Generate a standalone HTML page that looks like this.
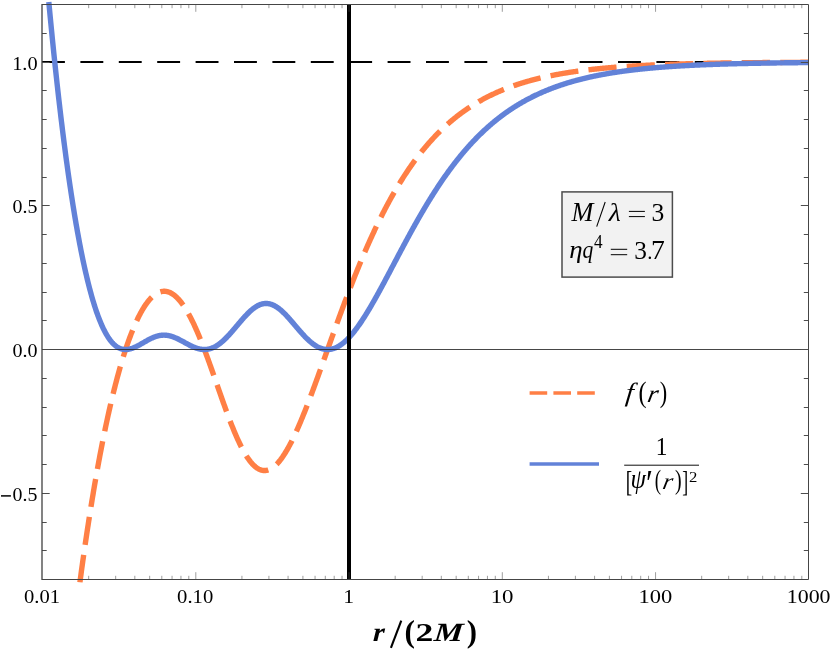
<!DOCTYPE html>
<html><head><meta charset="utf-8"><title>plot</title>
<style>html,body{margin:0;padding:0;background:#fff}svg{display:block}#w{will-change:transform;width:830px;height:654px}</style></head>
<body>
<div id="w">
<svg width="830" height="654" viewBox="0 0 830 654" font-family="'Liberation Serif', serif">
<rect width="830" height="654" fill="#fff"/>
<line x1="42.00" y1="62.00" x2="808.50" y2="62.00" stroke="#000" stroke-width="2" stroke-dasharray="22.9 15.5"/>
<path d="M79.92,582.23 L80.40,578.61 L80.89,575.03 L81.37,571.47 L81.86,567.93 L82.35,564.43 L82.83,560.96 L83.32,557.51 L83.81,554.09 L84.29,550.70 L84.78,547.33 L85.26,543.99 L85.75,540.68 L86.24,537.40 L86.72,534.14 L87.21,530.91 L87.70,527.71 L88.18,524.53 L88.67,521.38 L89.15,518.26 L89.64,515.16 L90.13,512.09 L90.61,509.04 L91.10,506.02 L91.59,503.02 L92.07,500.05 L92.56,497.10 L93.05,494.18 L93.53,491.28 L94.02,488.41 L94.50,485.56 L94.99,482.74 L95.48,479.94 L95.96,477.17 L96.45,474.41 L96.94,471.69 L97.42,468.98 L97.91,466.30 L98.39,463.65 L98.88,461.02 L99.37,458.41 L99.85,455.82 L100.34,453.26 L100.83,450.72 L101.31,448.20 L101.80,445.70 L102.28,443.23 L102.77,440.78 L103.26,438.35 L103.74,435.95 L104.23,433.57 L104.72,431.21 L105.20,428.87 L105.69,426.55 L106.17,424.26 L106.66,421.98 L107.15,419.73 L107.63,417.50 L108.12,415.29 L108.61,413.11 L109.09,410.94 L109.58,408.80 L110.07,406.67 L110.55,404.57 L111.04,402.49 L111.52,400.43 L112.01,398.39 L112.50,396.37 L112.98,394.37 L113.47,392.39 L113.96,390.44 L114.44,388.50 L114.93,386.58 L115.41,384.69 L115.90,382.81 L116.39,380.96 L116.87,379.12 L117.36,377.31 L117.85,375.51 L118.33,373.73 L118.82,371.98 L119.30,370.24 L119.79,368.53 L120.28,366.83 L120.76,365.15 L121.25,363.50 L121.74,361.86 L122.22,360.24 L122.71,358.64 L123.20,357.06 L123.68,355.50 L124.17,353.96 L124.65,352.44 L125.14,350.94 L125.63,349.46 L126.11,347.99 L126.60,346.55 L127.09,345.12 L127.57,343.72 L128.06,342.33 L128.54,340.96 L129.03,339.61 L129.52,338.28 L130.00,336.97 L130.49,335.68 L130.98,334.40 L131.46,333.15 L131.95,331.91 L132.43,330.69 L132.92,329.49 L133.41,328.31 L133.89,327.15 L134.38,326.01 L134.87,324.88 L135.35,323.78 L135.84,322.69 L136.33,321.62 L136.81,320.57 L137.30,319.54 L137.78,318.53 L138.27,317.54 L138.76,316.56 L139.24,315.60 L139.73,314.66 L140.22,313.74 L140.70,312.84 L141.19,311.96 L141.67,311.10 L142.16,310.25 L142.65,309.42 L143.13,308.61 L143.62,307.82 L144.11,307.05 L144.59,306.30 L145.08,305.56 L145.56,304.84 L146.05,304.14 L146.54,303.46 L147.02,302.80 L147.51,302.16 L148.00,301.54 L148.48,300.93 L148.97,300.34 L149.45,299.77 L149.94,299.22 L150.43,298.69 L150.91,298.17 L151.40,297.68 L151.89,297.20 L152.37,296.74 L152.86,296.30 L153.35,295.88 L153.83,295.48 L154.32,295.09 L154.80,294.73 L155.29,294.38 L155.78,294.05 L156.26,293.74 L156.75,293.45 L157.24,293.17 L157.72,292.92 L158.21,292.68 L158.69,292.46 L159.18,292.26 L159.67,292.08 L160.15,291.92 L160.64,291.78 L161.13,291.65 L161.61,291.54 L162.10,291.45 L162.58,291.38 L163.07,291.33 L163.56,291.30 L164.04,291.28 L164.53,291.29 L165.02,291.31 L165.50,291.35 L165.99,291.41 L166.48,291.49 L166.96,291.58 L167.45,291.70 L167.93,291.83 L168.42,291.98 L168.91,292.15 L169.39,292.34 L169.88,292.54 L170.37,292.77 L170.85,293.01 L171.34,293.27 L171.82,293.55 L172.31,293.85 L172.80,294.16 L173.28,294.50 L173.77,294.85 L174.26,295.22 L174.74,295.60 L175.23,296.01 L175.71,296.43 L176.20,296.87 L176.69,297.33 L177.17,297.81 L177.66,298.30 L178.15,298.81 L178.63,299.34 L179.12,299.89 L179.60,300.45 L180.09,301.04 L180.58,301.63 L181.06,302.25 L181.55,302.88 L182.04,303.53 L182.52,304.20 L183.01,304.88 L183.50,305.58 L183.98,306.30 L184.47,307.04 L184.95,307.79 L185.44,308.55 L185.93,309.33 L186.41,310.13 L186.90,310.95 L187.39,311.78 L187.87,312.62 L188.36,313.48 L188.84,314.36 L189.33,315.25 L189.82,316.16 L190.30,317.08 L190.79,318.02 L191.28,318.97 L191.76,319.94 L192.25,320.92 L192.73,321.92 L193.22,322.93 L193.71,323.95 L194.19,324.99 L194.68,326.04 L195.17,327.10 L195.65,328.18 L196.14,329.26 L196.63,330.37 L197.11,331.48 L197.60,332.61 L198.08,333.75 L198.57,334.90 L199.06,336.06 L199.54,337.23 L200.03,338.42 L200.52,339.61 L201.00,340.82 L201.49,342.04 L201.97,343.26 L202.46,344.50 L202.95,345.75 L203.43,347.00 L203.92,348.27 L204.41,349.54 L204.89,350.82 L205.38,352.11 L205.86,353.41 L206.35,354.71 L206.84,356.03 L207.32,357.35 L207.81,358.67 L208.30,360.01 L208.78,361.35 L209.27,362.69 L209.75,364.04 L210.24,365.40 L210.73,366.76 L211.21,368.12 L211.70,369.49 L212.19,370.87 L212.67,372.24 L213.16,373.62 L213.65,375.01 L214.13,376.39 L214.62,377.78 L215.10,379.17 L215.59,380.56 L216.08,381.95 L216.56,383.34 L217.05,384.74 L217.54,386.13 L218.02,387.52 L218.51,388.92 L218.99,390.31 L219.48,391.70 L219.97,393.08 L220.45,394.47 L220.94,395.85 L221.43,397.23 L221.91,398.61 L222.40,399.98 L222.88,401.35 L223.37,402.72 L223.86,404.08 L224.34,405.43 L224.83,406.78 L225.32,408.13 L225.80,409.47 L226.29,410.80 L226.78,412.12 L227.26,413.44 L227.75,414.75 L228.23,416.05 L228.72,417.34 L229.21,418.63 L229.69,419.91 L230.18,421.17 L230.67,422.43 L231.15,423.67 L231.64,424.91 L232.12,426.14 L232.61,427.35 L233.10,428.55 L233.58,429.75 L234.07,430.92 L234.56,432.09 L235.04,433.25 L235.53,434.39 L236.01,435.51 L236.50,436.63 L236.99,437.73 L237.47,438.82 L237.96,439.89 L238.45,440.94 L238.93,441.99 L239.42,443.01 L239.91,444.02 L240.39,445.02 L240.88,446.00 L241.36,446.96 L241.85,447.91 L242.34,448.84 L242.82,449.75 L243.31,450.64 L243.80,451.52 L244.28,452.38 L244.77,453.22 L245.25,454.05 L245.74,454.85 L246.23,455.64 L246.71,456.41 L247.20,457.15 L247.69,457.88 L248.17,458.59 L248.66,459.29 L249.14,459.96 L249.63,460.61 L250.12,461.24 L250.60,461.85 L251.09,462.44 L251.58,463.02 L252.06,463.57 L252.55,464.10 L253.03,464.61 L253.52,465.10 L254.01,465.57 L254.49,466.01 L254.98,466.44 L255.47,466.85 L255.95,467.23 L256.44,467.60 L256.93,467.94 L257.41,468.26 L257.90,468.56 L258.38,468.84 L258.87,469.10 L259.36,469.33 L259.84,469.55 L260.33,469.74 L260.82,469.92 L261.30,470.07 L261.79,470.20 L262.27,470.31 L262.76,470.39 L263.25,470.46 L263.73,470.51 L264.22,470.53 L264.71,470.53 L265.19,470.52 L265.68,470.48 L266.16,470.42 L266.65,470.34 L267.14,470.24 L267.62,470.12 L268.11,469.97 L268.60,469.81 L269.08,469.63 L269.57,469.43 L270.06,469.20 L270.54,468.96 L271.03,468.70 L271.51,468.41 L272.00,468.11 L272.49,467.79 L272.97,467.45 L273.46,467.09 L273.95,466.71 L274.43,466.31 L274.92,465.89 L275.40,465.45 L275.89,465.00 L276.38,464.52 L276.86,464.03 L277.35,463.52 L277.84,462.99 L278.32,462.45 L278.81,461.88 L279.29,461.30 L279.78,460.70 L280.27,460.09 L280.75,459.46 L281.24,458.81 L281.73,458.14 L282.21,457.46 L282.70,456.77 L283.18,456.05 L283.67,455.32 L284.16,454.58 L284.64,453.82 L285.13,453.04 L285.62,452.25 L286.10,451.45 L286.59,450.63 L287.08,449.79 L287.56,448.95 L288.05,448.08 L288.53,447.21 L289.02,446.32 L289.51,445.41 L289.99,444.50 L290.48,443.57 L290.97,442.63 L291.45,441.67 L291.94,440.71 L292.42,439.73 L292.91,438.74 L293.40,437.73 L293.88,436.72 L294.37,435.70 L294.86,434.66 L295.34,433.61 L295.83,432.55 L296.31,431.49 L296.80,430.41 L297.29,429.32 L297.77,428.22 L298.26,427.11 L298.75,425.99 L299.23,424.87 L299.72,423.73 L300.21,422.59 L300.69,421.43 L301.18,420.27 L301.66,419.10 L302.15,417.92 L302.64,416.73 L303.12,415.54 L303.61,414.34 L304.10,413.13 L304.58,411.91 L305.07,410.69 L305.55,409.46 L306.04,408.23 L306.53,406.98 L307.01,405.74 L307.50,404.48 L307.99,403.22 L308.47,401.95 L308.96,400.68 L309.44,399.41 L309.93,398.12 L310.42,396.84 L310.90,395.55 L311.39,394.25 L311.88,392.95 L312.36,391.64 L312.85,390.34 L313.34,389.02 L313.82,387.71 L314.31,386.39 L314.79,385.06 L315.28,383.74 L315.77,382.41 L316.25,381.07 L316.74,379.74 L317.23,378.40 L317.71,377.06 L318.20,375.72 L318.68,374.37 L319.17,373.02 L319.66,371.67 L320.14,370.32 L320.63,368.97 L321.12,367.61 L321.60,366.26 L322.09,364.90 L322.57,363.54 L323.06,362.18 L323.55,360.82 L324.03,359.46 L324.52,358.10 L325.01,356.74 L325.49,355.38 L325.98,354.02 L326.46,352.65 L326.95,351.29 L327.44,349.93 L327.92,348.57 L328.41,347.20 L328.90,345.84 L329.38,344.48 L329.87,343.12 L330.36,341.76 L330.84,340.40 L331.33,339.04 L331.81,337.69 L332.30,336.33 L332.79,334.98 L333.27,333.62 L333.76,332.27 L334.25,330.92 L334.73,329.57 L335.22,328.23 L335.70,326.88 L336.19,325.54 L336.68,324.20 L337.16,322.86 L337.65,321.52 L338.14,320.19 L338.62,318.85 L339.11,317.52 L339.59,316.19 L340.08,314.87 L340.57,313.55 L341.05,312.23 L341.54,310.91 L342.03,309.59 L342.51,308.28 L343.00,306.97 L343.49,305.67 L343.97,304.36 L344.46,303.06 L344.94,301.77 L345.43,300.47 L345.92,299.18 L346.40,297.90 L346.89,296.61 L347.38,295.33 L347.86,294.05 L348.35,292.78 L348.83,291.51 L349.32,290.25 L349.81,288.98 L350.29,287.72 L350.78,286.47 L351.27,285.22 L351.75,283.97 L352.24,282.73 L352.72,281.49 L353.21,280.25 L353.70,279.02 L354.18,277.79 L354.67,276.57 L355.16,275.35 L355.64,274.13 L356.13,272.92 L356.61,271.72 L357.10,270.51 L357.59,269.31 L358.07,268.12 L358.56,266.93 L359.05,265.74 L359.53,264.56 L360.02,263.39 L360.51,262.21 L360.99,261.05 L361.48,259.88 L361.96,258.72 L362.45,257.57 L362.94,256.42 L363.42,255.27 L363.91,254.13 L364.40,253.00 L364.88,251.86 L365.37,250.74 L365.85,249.61 L366.34,248.50 L366.83,247.38 L367.31,246.27 L367.80,245.17 L368.29,244.07 L368.77,242.98 L369.26,241.89 L369.74,240.80 L370.23,239.72 L370.72,238.65 L371.20,237.58 L371.69,236.51 L372.18,235.45 L372.66,234.39 L373.15,233.34 L373.64,232.29 L374.12,231.25 L374.61,230.21 L375.09,229.18 L375.58,228.15 L376.07,227.13 L376.55,226.11 L377.04,225.10 L377.53,224.09 L378.01,223.09 L378.50,222.09 L378.98,221.09 L379.47,220.10 L379.96,219.12 L380.44,218.14 L380.93,217.17 L381.42,216.20 L381.90,215.23 L382.39,214.27 L382.87,213.31 L383.36,212.36 L383.85,211.42 L384.33,210.48 L384.82,209.54 L385.31,208.61 L385.79,207.68 L386.28,206.76 L386.76,205.84 L387.25,204.93 L387.74,204.02 L388.22,203.12 L388.71,202.22 L389.20,201.32 L389.68,200.43 L390.17,199.55 L390.66,198.67 L391.14,197.79 L391.63,196.92 L392.11,196.06 L392.60,195.20 L393.09,194.34 L393.57,193.49 L394.06,192.64 L394.55,191.80 L395.03,190.96 L395.52,190.13 L396.00,189.30 L396.49,188.47 L396.98,187.65 L397.46,186.84 L397.95,186.03 L398.44,185.22 L398.92,184.42 L399.41,183.62 L399.89,182.83 L400.38,182.04 L400.87,181.25 L401.35,180.47 L401.84,179.70 L402.33,178.93 L402.81,178.16 L403.30,177.40 L403.79,176.64 L404.27,175.89 L404.76,175.14 L405.24,174.39 L405.73,173.65 L406.22,172.92 L406.70,172.19 L407.19,171.46 L407.68,170.73 L408.16,170.01 L408.65,169.30 L409.13,168.59 L409.62,167.88 L410.11,167.18 L410.59,166.48 L411.08,165.79 L411.57,165.10 L412.05,164.41 L412.54,163.73 L413.02,163.05 L413.51,162.38 L414.00,161.71 L414.48,161.04 L414.97,160.38 L415.46,159.72 L415.94,159.07 L416.43,158.41 L416.92,157.77 L417.40,157.13 L417.89,156.49 L418.37,155.85 L418.86,155.22 L419.35,154.60 L419.83,153.97 L420.32,153.35 L420.81,152.74 L421.29,152.13 L421.78,151.52 L422.26,150.91 L422.75,150.31 L423.24,149.72 L423.72,149.12 L424.21,148.53 L424.70,147.95 L425.18,147.37 L425.67,146.79 L426.15,146.21 L426.64,145.64 L427.13,145.07 L427.61,144.51 L428.10,143.95 L428.59,143.39 L429.07,142.84 L429.56,142.29 L430.04,141.74 L430.53,141.20 L431.02,140.66 L431.50,140.12 L431.99,139.59 L432.48,139.06 L432.96,138.53 L433.45,138.01 L433.94,137.49 L434.42,136.97 L434.91,136.46 L435.39,135.95 L435.88,135.44 L436.37,134.94 L436.85,134.44 L437.34,133.94 L437.83,133.45 L438.31,132.95 L438.80,132.47 L439.28,131.98 L439.77,131.50 L440.26,131.02 L440.74,130.55 L441.23,130.08 L441.72,129.61 L442.20,129.14 L442.69,128.68 L443.17,128.22 L443.66,127.76 L444.15,127.31 L444.63,126.85 L445.12,126.41 L445.61,125.96 L446.09,125.52 L446.58,125.08 L447.07,124.64 L447.55,124.21 L448.04,123.78 L448.52,123.35 L449.01,122.92 L449.50,122.50 L449.98,122.08 L450.47,121.67 L450.96,121.25 L451.44,120.84 L451.93,120.43 L452.41,120.02 L452.90,119.62 L453.39,119.22 L453.87,118.82 L454.36,118.43 L454.85,118.03 L455.33,117.64 L455.82,117.26 L456.30,116.87 L456.79,116.49 L457.28,116.11 L457.76,115.73 L458.25,115.36 L458.74,114.98 L459.22,114.61 L459.71,114.25 L460.19,113.88 L460.68,113.52 L461.17,113.16 L461.65,112.80 L462.14,112.44 L462.63,112.09 L463.11,111.74 L463.60,111.39 L464.09,111.05 L464.57,110.70 L465.06,110.36 L465.54,110.02 L466.03,109.69 L466.52,109.35 L467.00,109.02 L467.49,108.69 L467.98,108.36 L468.46,108.03 L468.95,107.71 L469.43,107.39 L469.92,107.07 L470.41,106.75 L470.89,106.44 L471.38,106.13 L471.87,105.82 L472.35,105.51 L472.84,105.20 L473.32,104.90 L473.81,104.60 L474.30,104.30 L474.78,104.00 L475.27,103.70 L475.76,103.41 L476.24,103.12 L476.73,102.83 L477.22,102.54 L477.70,102.25 L478.19,101.97 L478.67,101.68 L479.16,101.40 L479.65,101.13 L480.13,100.85 L480.62,100.57 L481.11,100.30 L481.59,100.03 L482.08,99.76 L482.56,99.50 L483.05,99.23 L483.54,98.97 L484.02,98.70 L484.51,98.45 L485.00,98.19 L485.48,97.93 L485.97,97.68 L486.45,97.42 L486.94,97.17 L487.43,96.92 L487.91,96.68 L488.40,96.43 L488.89,96.19 L489.37,95.94 L489.86,95.70 L490.34,95.46 L490.83,95.23 L491.32,94.99 L491.80,94.76 L492.29,94.52 L492.78,94.29 L493.26,94.06 L493.75,93.83 L494.24,93.61 L494.72,93.38 L495.21,93.16 L495.69,92.94 L496.18,92.72 L496.67,92.50 L497.15,92.28 L497.64,92.07 L498.13,91.85 L498.61,91.64 L499.10,91.43 L499.58,91.22 L500.07,91.01 L500.56,90.81 L501.04,90.60 L501.53,90.40 L502.02,90.19 L502.50,89.99 L502.99,89.79 L503.47,89.60 L503.96,89.40 L504.45,89.20 L504.93,89.01 L505.42,88.82 L505.91,88.62 L506.39,88.43 L506.88,88.25 L507.37,88.06 L507.85,87.87 L508.34,87.69 L508.82,87.50 L509.31,87.32 L509.80,87.14 L510.28,86.96 L510.77,86.78 L511.26,86.61 L511.74,86.43 L512.23,86.26 L512.71,86.08 L513.20,85.91 L513.69,85.74 L514.17,85.57 L514.66,85.40 L515.15,85.23 L515.63,85.07 L516.12,84.90 L516.60,84.74 L517.09,84.58 L517.58,84.41 L518.06,84.25 L518.55,84.09 L519.04,83.94 L519.52,83.78 L520.01,83.62 L520.50,83.47 L520.98,83.31 L521.47,83.16 L521.95,83.01 L522.44,82.86 L522.93,82.71 L523.41,82.56 L523.90,82.41 L524.39,82.27 L524.87,82.12 L525.36,81.98 L525.84,81.83 L526.33,81.69 L526.82,81.55 L527.30,81.41 L527.79,81.27 L528.28,81.13 L528.76,80.99 L529.25,80.86 L529.73,80.72 L530.22,80.59 L530.71,80.46 L531.19,80.32 L531.68,80.19 L532.17,80.06 L532.65,79.93 L533.14,79.80 L533.62,79.67 L534.11,79.55 L534.60,79.42 L535.08,79.30 L535.57,79.17 L536.06,79.05 L536.54,78.93 L537.03,78.80 L537.52,78.68 L538.00,78.56 L538.49,78.44 L538.97,78.33 L539.46,78.21 L539.95,78.09 L540.43,77.98 L540.92,77.86 L541.41,77.75 L541.89,77.63 L542.38,77.52 L542.86,77.41 L543.35,77.30 L543.84,77.19 L544.32,77.08 L544.81,76.97 L545.30,76.86 L545.78,76.76 L546.27,76.65 L546.75,76.54 L547.24,76.44 L547.73,76.33 L548.21,76.23 L548.70,76.13 L549.19,76.03 L549.67,75.93 L550.16,75.83 L550.65,75.73 L551.13,75.63 L551.62,75.53 L552.10,75.43 L552.59,75.33 L553.08,75.24 L553.56,75.14 L554.05,75.05 L554.54,74.95 L555.02,74.86 L555.51,74.77 L555.99,74.68 L556.48,74.58 L556.97,74.49 L557.45,74.40 L557.94,74.31 L558.43,74.23 L558.91,74.14 L559.40,74.05 L559.88,73.96 L560.37,73.88 L560.86,73.79 L561.34,73.71 L561.83,73.62 L562.32,73.54 L562.80,73.45 L563.29,73.37 L563.77,73.29 L564.26,73.21 L564.75,73.13 L565.23,73.05 L565.72,72.97 L566.21,72.89 L566.69,72.81 L567.18,72.73 L567.67,72.65 L568.15,72.58 L568.64,72.50 L569.12,72.42 L569.61,72.35 L570.10,72.27 L570.58,72.20 L571.07,72.13 L571.56,72.05 L572.04,71.98 L572.53,71.91 L573.01,71.84 L573.50,71.76 L573.99,71.69 L574.47,71.62 L574.96,71.55 L575.45,71.49 L575.93,71.42 L576.42,71.35 L576.90,71.28 L577.39,71.21 L577.88,71.15 L578.36,71.08 L578.85,71.02 L579.34,70.95 L579.82,70.89 L580.31,70.82 L580.80,70.76 L581.28,70.69 L581.77,70.63 L582.25,70.57 L582.74,70.51 L583.23,70.45 L583.71,70.38 L584.20,70.32 L584.69,70.26 L585.17,70.20 L585.66,70.14 L586.14,70.09 L586.63,70.03 L587.12,69.97 L587.60,69.91 L588.09,69.85 L588.58,69.80 L589.06,69.74 L589.55,69.68 L590.03,69.63 L590.52,69.57 L591.01,69.52 L591.49,69.46 L591.98,69.41 L592.47,69.36 L592.95,69.30 L593.44,69.25 L593.93,69.20 L594.41,69.15 L594.90,69.09 L595.38,69.04 L595.87,68.99 L596.36,68.94 L596.84,68.89 L597.33,68.84 L597.82,68.79 L598.30,68.74 L598.79,68.69 L599.27,68.64 L599.76,68.60 L600.25,68.55 L600.73,68.50 L601.22,68.45 L601.71,68.41 L602.19,68.36 L602.68,68.31 L603.16,68.27 L603.65,68.22 L604.14,68.18 L604.62,68.13 L605.11,68.09 L605.60,68.05 L606.08,68.00 L606.57,67.96 L607.05,67.91 L607.54,67.87 L608.03,67.83 L608.51,67.79 L609.00,67.74 L609.49,67.70 L609.97,67.66 L610.46,67.62 L610.95,67.58 L611.43,67.54 L611.92,67.50 L612.40,67.46 L612.89,67.42 L613.38,67.38 L613.86,67.34 L614.35,67.30 L614.84,67.26 L615.32,67.23 L615.81,67.19 L616.29,67.15 L616.78,67.11 L617.27,67.08 L617.75,67.04 L618.24,67.00 L618.73,66.97 L619.21,66.93 L619.70,66.89 L620.18,66.86 L620.67,66.82 L621.16,66.79 L621.64,66.75 L622.13,66.72 L622.62,66.69 L623.10,66.65 L623.59,66.62 L624.08,66.58 L624.56,66.55 L625.05,66.52 L625.53,66.49 L626.02,66.45 L626.51,66.42 L626.99,66.39 L627.48,66.36 L627.97,66.32 L628.45,66.29 L628.94,66.26 L629.42,66.23 L629.91,66.20 L630.40,66.17 L630.88,66.14 L631.37,66.11 L631.86,66.08 L632.34,66.05 L632.83,66.02 L633.31,65.99 L633.80,65.96 L634.29,65.93 L634.77,65.91 L635.26,65.88 L635.75,65.85 L636.23,65.82 L636.72,65.79 L637.20,65.77 L637.69,65.74 L638.18,65.71 L638.66,65.68 L639.15,65.66 L639.64,65.63 L640.12,65.60 L640.61,65.58 L641.10,65.55 L641.58,65.53 L642.07,65.50 L642.55,65.48 L643.04,65.45 L643.53,65.43 L644.01,65.40 L644.50,65.38 L644.99,65.35 L645.47,65.33 L645.96,65.30 L646.44,65.28 L646.93,65.26 L647.42,65.23 L647.90,65.21 L648.39,65.18 L648.88,65.16 L649.36,65.14 L649.85,65.12 L650.33,65.09 L650.82,65.07 L651.31,65.05 L651.79,65.03 L652.28,65.00 L652.77,64.98 L653.25,64.96 L653.74,64.94 L654.23,64.92 L654.71,64.90 L655.20,64.88 L655.68,64.85 L656.17,64.83 L656.66,64.81 L657.14,64.79 L657.63,64.77 L658.12,64.75 L658.60,64.73 L659.09,64.71 L659.57,64.69 L660.06,64.67 L660.55,64.65 L661.03,64.63 L661.52,64.62 L662.01,64.60 L662.49,64.58 L662.98,64.56 L663.46,64.54 L663.95,64.52 L664.44,64.50 L664.92,64.49 L665.41,64.47 L665.90,64.45 L666.38,64.43 L666.87,64.41 L667.35,64.40 L667.84,64.38 L668.33,64.36 L668.81,64.34 L669.30,64.33 L669.79,64.31 L670.27,64.29 L670.76,64.28 L671.25,64.26 L671.73,64.24 L672.22,64.23 L672.70,64.21 L673.19,64.20 L673.68,64.18 L674.16,64.16 L674.65,64.15 L675.14,64.13 L675.62,64.12 L676.11,64.10 L676.59,64.09 L677.08,64.07 L677.57,64.06 L678.05,64.04 L678.54,64.03 L679.03,64.01 L679.51,64.00 L680.00,63.98 L680.48,63.97 L680.97,63.95 L681.46,63.94 L681.94,63.93 L682.43,63.91 L682.92,63.90 L683.40,63.88 L683.89,63.87 L684.38,63.86 L684.86,63.84 L685.35,63.83 L685.83,63.82 L686.32,63.80 L686.81,63.79 L687.29,63.78 L687.78,63.76 L688.27,63.75 L688.75,63.74 L689.24,63.73 L689.72,63.71 L690.21,63.70 L690.70,63.69 L691.18,63.68 L691.67,63.66 L692.16,63.65 L692.64,63.64 L693.13,63.63 L693.61,63.62 L694.10,63.60 L694.59,63.59 L695.07,63.58 L695.56,63.57 L696.05,63.56 L696.53,63.55 L697.02,63.54 L697.51,63.52 L697.99,63.51 L698.48,63.50 L698.96,63.49 L699.45,63.48 L699.94,63.47 L700.42,63.46 L700.91,63.45 L701.40,63.44 L701.88,63.43 L702.37,63.42 L702.85,63.41 L703.34,63.40 L703.83,63.39 L704.31,63.38 L704.80,63.37 L705.29,63.36 L705.77,63.35 L706.26,63.34 L706.74,63.33 L707.23,63.32 L707.72,63.31 L708.20,63.30 L708.69,63.29 L709.18,63.28 L709.66,63.27 L710.15,63.26 L710.63,63.25 L711.12,63.24 L711.61,63.23 L712.09,63.22 L712.58,63.22 L713.07,63.21 L713.55,63.20 L714.04,63.19 L714.53,63.18 L715.01,63.17 L715.50,63.16 L715.98,63.16 L716.47,63.15 L716.96,63.14 L717.44,63.13 L717.93,63.12 L718.42,63.11 L718.90,63.11 L719.39,63.10 L719.87,63.09 L720.36,63.08 L720.85,63.07 L721.33,63.07 L721.82,63.06 L722.31,63.05 L722.79,63.04 L723.28,63.04 L723.76,63.03 L724.25,63.02 L724.74,63.01 L725.22,63.01 L725.71,63.00 L726.20,62.99 L726.68,62.98 L727.17,62.98 L727.66,62.97 L728.14,62.96 L728.63,62.96 L729.11,62.95 L729.60,62.94 L730.09,62.93 L730.57,62.93 L731.06,62.92 L731.55,62.91 L732.03,62.91 L732.52,62.90 L733.00,62.89 L733.49,62.89 L733.98,62.88 L734.46,62.88 L734.95,62.87 L735.44,62.86 L735.92,62.86 L736.41,62.85 L736.89,62.84 L737.38,62.84 L737.87,62.83 L738.35,62.83 L738.84,62.82 L739.33,62.81 L739.81,62.81 L740.30,62.80 L740.78,62.80 L741.27,62.79 L741.76,62.78 L742.24,62.78 L742.73,62.77 L743.22,62.77 L743.70,62.76 L744.19,62.76 L744.68,62.75 L745.16,62.75 L745.65,62.74 L746.13,62.73 L746.62,62.73 L747.11,62.72 L747.59,62.72 L748.08,62.71 L748.57,62.71 L749.05,62.70 L749.54,62.70 L750.02,62.69 L750.51,62.69 L751.00,62.68 L751.48,62.68 L751.97,62.67 L752.46,62.67 L752.94,62.66 L753.43,62.66 L753.91,62.65 L754.40,62.65 L754.89,62.64 L755.37,62.64 L755.86,62.63 L756.35,62.63 L756.83,62.63 L757.32,62.62 L757.81,62.62 L758.29,62.61 L758.78,62.61 L759.26,62.60 L759.75,62.60 L760.24,62.59 L760.72,62.59 L761.21,62.59 L761.70,62.58 L762.18,62.58 L762.67,62.57 L763.15,62.57 L763.64,62.56 L764.13,62.56 L764.61,62.56 L765.10,62.55 L765.59,62.55 L766.07,62.54 L766.56,62.54 L767.04,62.54 L767.53,62.53 L768.02,62.53 L768.50,62.52 L768.99,62.52 L769.48,62.52 L769.96,62.51 L770.45,62.51 L770.93,62.51 L771.42,62.50 L771.91,62.50 L772.39,62.50 L772.88,62.49 L773.37,62.49 L773.85,62.48 L774.34,62.48 L774.83,62.48 L775.31,62.47 L775.80,62.47 L776.28,62.47 L776.77,62.46 L777.26,62.46 L777.74,62.46 L778.23,62.45 L778.72,62.45 L779.20,62.45 L779.69,62.44 L780.17,62.44 L780.66,62.44 L781.15,62.43 L781.63,62.43 L782.12,62.43 L782.61,62.42 L783.09,62.42 L783.58,62.42 L784.06,62.42 L784.55,62.41 L785.04,62.41 L785.52,62.41 L786.01,62.40 L786.50,62.40 L786.98,62.40 L787.47,62.39 L787.96,62.39 L788.44,62.39 L788.93,62.39 L789.41,62.38 L789.90,62.38 L790.39,62.38 L790.87,62.38 L791.36,62.37 L791.85,62.37 L792.33,62.37 L792.82,62.36 L793.30,62.36 L793.79,62.36 L794.28,62.36 L794.76,62.35 L795.25,62.35 L795.74,62.35 L796.22,62.35 L796.71,62.34 L797.19,62.34 L797.68,62.34 L798.17,62.34 L798.65,62.33 L799.14,62.33 L799.63,62.33 L800.11,62.33 L800.60,62.32 L801.09,62.32 L801.57,62.32 L802.06,62.32 L802.54,62.31 L803.03,62.31 L803.52,62.31 L804.00,62.31 L804.49,62.31 L804.98,62.30 L805.46,62.30 L805.95,62.30 L806.43,62.30 L806.92,62.29 L807.41,62.29 L807.89,62.29 L808.38,62.29 L808.87,62.29" fill="none" stroke="#ff7f45" stroke-width="5.4" stroke-dasharray="28.2 10.2" stroke-dashoffset="0.61" stroke-linejoin="round"/>
<path d="M48.81,2.00 L49.32,7.40 L49.82,12.75 L50.33,18.05 L50.84,23.29 L51.35,28.48 L51.85,33.62 L52.36,38.71 L52.87,43.74 L53.37,48.73 L53.88,53.66 L54.39,58.54 L54.89,63.38 L55.40,68.16 L55.91,72.89 L56.42,77.58 L56.92,82.21 L57.43,86.80 L57.94,91.34 L58.44,95.83 L58.95,100.27 L59.46,104.66 L59.97,109.01 L60.47,113.30 L60.98,117.56 L61.49,121.76 L61.99,125.92 L62.50,130.03 L63.01,134.10 L63.51,138.12 L64.02,142.09 L64.53,146.02 L65.04,149.90 L65.54,153.74 L66.05,157.54 L66.56,161.29 L67.06,165.00 L67.57,168.66 L68.08,172.28 L68.58,175.85 L69.09,179.39 L69.60,182.87 L70.11,186.32 L70.61,189.73 L71.12,193.09 L71.63,196.41 L72.13,199.68 L72.64,202.92 L73.15,206.11 L73.66,209.27 L74.16,212.38 L74.67,215.45 L75.18,218.48 L75.68,221.47 L76.19,224.42 L76.70,227.33 L77.20,230.20 L77.71,233.03 L78.22,235.82 L78.73,238.57 L79.23,241.28 L79.74,243.95 L80.25,246.59 L80.75,249.18 L81.26,251.74 L81.77,254.26 L82.28,256.74 L82.78,259.18 L83.29,261.59 L83.80,263.96 L84.30,266.29 L84.81,268.58 L85.32,270.84 L85.82,273.06 L86.33,275.24 L86.84,277.39 L87.35,279.50 L87.85,281.58 L88.36,283.62 L88.87,285.62 L89.37,287.59 L89.88,289.52 L90.39,291.42 L90.89,293.28 L91.40,295.11 L91.91,296.91 L92.42,298.67 L92.92,300.39 L93.43,302.08 L93.94,303.74 L94.44,305.36 L94.95,306.95 L95.46,308.51 L95.97,310.03 L96.47,311.53 L96.98,312.98 L97.49,314.41 L97.99,315.80 L98.50,317.17 L99.01,318.49 L99.51,319.79 L100.02,321.06 L100.53,322.29 L101.04,323.50 L101.54,324.67 L102.05,325.81 L102.56,326.93 L103.06,328.01 L103.57,329.06 L104.08,330.08 L104.58,331.07 L105.09,332.04 L105.60,332.97 L106.11,333.88 L106.61,334.75 L107.12,335.60 L107.63,336.42 L108.13,337.21 L108.64,337.97 L109.15,338.71 L109.66,339.42 L110.16,340.10 L110.67,340.76 L111.18,341.39 L111.68,341.99 L112.19,342.57 L112.70,343.12 L113.20,343.65 L113.71,344.15 L114.22,344.62 L114.73,345.07 L115.23,345.50 L115.74,345.91 L116.25,346.29 L116.75,346.64 L117.26,346.98 L117.77,347.29 L118.28,347.58 L118.78,347.85 L119.29,348.09 L119.80,348.32 L120.30,348.52 L120.81,348.71 L121.32,348.87 L121.82,349.01 L122.33,349.14 L122.84,349.24 L123.35,349.33 L123.85,349.40 L124.36,349.45 L124.87,349.48 L125.37,349.50 L125.88,349.50 L126.39,349.48 L126.89,349.45 L127.40,349.40 L127.91,349.34 L128.42,349.26 L128.92,349.17 L129.43,349.06 L129.94,348.95 L130.44,348.82 L130.95,348.67 L131.46,348.52 L131.97,348.35 L132.47,348.17 L132.98,347.99 L133.49,347.79 L133.99,347.58 L134.50,347.37 L135.01,347.14 L135.51,346.91 L136.02,346.67 L136.53,346.43 L137.04,346.17 L137.54,345.91 L138.05,345.65 L138.56,345.38 L139.06,345.10 L139.57,344.83 L140.08,344.54 L140.58,344.26 L141.09,343.97 L141.60,343.68 L142.11,343.39 L142.61,343.10 L143.12,342.81 L143.63,342.51 L144.13,342.22 L144.64,341.93 L145.15,341.64 L145.66,341.35 L146.16,341.06 L146.67,340.78 L147.18,340.49 L147.68,340.22 L148.19,339.94 L148.70,339.67 L149.20,339.41 L149.71,339.15 L150.22,338.89 L150.73,338.64 L151.23,338.40 L151.74,338.16 L152.25,337.93 L152.75,337.71 L153.26,337.50 L153.77,337.29 L154.28,337.09 L154.78,336.90 L155.29,336.72 L155.80,336.55 L156.30,336.38 L156.81,336.23 L157.32,336.09 L157.82,335.95 L158.33,335.83 L158.84,335.71 L159.35,335.61 L159.85,335.52 L160.36,335.44 L160.87,335.36 L161.37,335.30 L161.88,335.25 L162.39,335.21 L162.89,335.19 L163.40,335.17 L163.91,335.16 L164.42,335.17 L164.92,335.19 L165.43,335.21 L165.94,335.25 L166.44,335.30 L166.95,335.36 L167.46,335.43 L167.97,335.51 L168.47,335.60 L168.98,335.70 L169.49,335.81 L169.99,335.94 L170.50,336.07 L171.01,336.21 L171.51,336.36 L172.02,336.52 L172.53,336.68 L173.04,336.86 L173.54,337.04 L174.05,337.24 L174.56,337.44 L175.06,337.64 L175.57,337.86 L176.08,338.08 L176.58,338.31 L177.09,338.54 L177.60,338.78 L178.11,339.03 L178.61,339.28 L179.12,339.53 L179.63,339.79 L180.13,340.05 L180.64,340.32 L181.15,340.59 L181.66,340.86 L182.16,341.13 L182.67,341.41 L183.18,341.68 L183.68,341.96 L184.19,342.24 L184.70,342.52 L185.20,342.80 L185.71,343.08 L186.22,343.35 L186.73,343.63 L187.23,343.90 L187.74,344.18 L188.25,344.44 L188.75,344.71 L189.26,344.97 L189.77,345.23 L190.27,345.49 L190.78,345.74 L191.29,345.98 L191.80,346.22 L192.30,346.45 L192.81,346.68 L193.32,346.90 L193.82,347.12 L194.33,347.32 L194.84,347.52 L195.35,347.71 L195.85,347.90 L196.36,348.07 L196.87,348.24 L197.37,348.40 L197.88,348.54 L198.39,348.68 L198.89,348.81 L199.40,348.93 L199.91,349.04 L200.42,349.13 L200.92,349.22 L201.43,349.29 L201.94,349.36 L202.44,349.41 L202.95,349.45 L203.46,349.48 L203.97,349.50 L204.47,349.50 L204.98,349.49 L205.49,349.47 L205.99,349.44 L206.50,349.39 L207.01,349.33 L207.51,349.26 L208.02,349.18 L208.53,349.08 L209.04,348.97 L209.54,348.84 L210.05,348.71 L210.56,348.56 L211.06,348.39 L211.57,348.22 L212.08,348.03 L212.58,347.82 L213.09,347.61 L213.60,347.38 L214.11,347.13 L214.61,346.88 L215.12,346.61 L215.63,346.33 L216.13,346.04 L216.64,345.73 L217.15,345.41 L217.66,345.08 L218.16,344.74 L218.67,344.38 L219.18,344.02 L219.68,343.64 L220.19,343.25 L220.70,342.85 L221.20,342.43 L221.71,342.01 L222.22,341.58 L222.73,341.13 L223.23,340.68 L223.74,340.22 L224.25,339.74 L224.75,339.26 L225.26,338.77 L225.77,338.27 L226.27,337.76 L226.78,337.24 L227.29,336.72 L227.80,336.19 L228.30,335.65 L228.81,335.10 L229.32,334.55 L229.82,333.99 L230.33,333.43 L230.84,332.86 L231.35,332.28 L231.85,331.71 L232.36,331.12 L232.87,330.54 L233.37,329.95 L233.88,329.35 L234.39,328.76 L234.89,328.16 L235.40,327.56 L235.91,326.96 L236.42,326.35 L236.92,325.75 L237.43,325.15 L237.94,324.55 L238.44,323.94 L238.95,323.34 L239.46,322.74 L239.97,322.15 L240.47,321.55 L240.98,320.96 L241.49,320.37 L241.99,319.79 L242.50,319.21 L243.01,318.63 L243.51,318.06 L244.02,317.50 L244.53,316.94 L245.04,316.38 L245.54,315.84 L246.05,315.30 L246.56,314.77 L247.06,314.24 L247.57,313.73 L248.08,313.22 L248.58,312.72 L249.09,312.23 L249.60,311.76 L250.11,311.29 L250.61,310.83 L251.12,310.39 L251.63,309.95 L252.13,309.53 L252.64,309.12 L253.15,308.72 L253.66,308.33 L254.16,307.96 L254.67,307.60 L255.18,307.25 L255.68,306.92 L256.19,306.60 L256.70,306.29 L257.20,306.00 L257.71,305.73 L258.22,305.47 L258.73,305.22 L259.23,305.00 L259.74,304.78 L260.25,304.58 L260.75,304.40 L261.26,304.24 L261.77,304.09 L262.27,303.95 L262.78,303.84 L263.29,303.73 L263.80,303.65 L264.30,303.58 L264.81,303.53 L265.32,303.50 L265.82,303.48 L266.33,303.48 L266.84,303.50 L267.35,303.53 L267.85,303.58 L268.36,303.65 L268.87,303.73 L269.37,303.83 L269.88,303.95 L270.39,304.08 L270.89,304.23 L271.40,304.40 L271.91,304.58 L272.42,304.78 L272.92,304.99 L273.43,305.22 L273.94,305.46 L274.44,305.72 L274.95,305.99 L275.46,306.28 L275.96,306.59 L276.47,306.90 L276.98,307.23 L277.49,307.58 L277.99,307.94 L278.50,308.31 L279.01,308.69 L279.51,309.09 L280.02,309.50 L280.53,309.92 L281.04,310.35 L281.54,310.80 L282.05,311.25 L282.56,311.72 L283.06,312.19 L283.57,312.68 L284.08,313.17 L284.58,313.67 L285.09,314.19 L285.60,314.71 L286.11,315.23 L286.61,315.77 L287.12,316.31 L287.63,316.86 L288.13,317.42 L288.64,317.98 L289.15,318.54 L289.66,319.11 L290.16,319.69 L290.67,320.27 L291.18,320.85 L291.68,321.44 L292.19,322.03 L292.70,322.62 L293.20,323.22 L293.71,323.82 L294.22,324.41 L294.73,325.01 L295.23,325.61 L295.74,326.21 L296.25,326.81 L296.75,327.40 L297.26,328.00 L297.77,328.59 L298.27,329.18 L298.78,329.77 L299.29,330.36 L299.80,330.94 L300.30,331.52 L300.81,332.10 L301.32,332.67 L301.82,333.24 L302.33,333.80 L302.84,334.36 L303.35,334.91 L303.85,335.45 L304.36,335.99 L304.87,336.52 L305.37,337.05 L305.88,337.56 L306.39,338.07 L306.89,338.57 L307.40,339.06 L307.91,339.55 L308.42,340.02 L308.92,340.49 L309.43,340.95 L309.94,341.39 L310.44,341.83 L310.95,342.26 L311.46,342.67 L311.96,343.08 L312.47,343.48 L312.98,343.86 L313.49,344.23 L313.99,344.59 L314.50,344.94 L315.01,345.28 L315.51,345.61 L316.02,345.92 L316.53,346.22 L317.04,346.51 L317.54,346.79 L318.05,347.05 L318.56,347.30 L319.06,347.54 L319.57,347.76 L320.08,347.97 L320.58,348.17 L321.09,348.35 L321.60,348.53 L322.11,348.68 L322.61,348.83 L323.12,348.96 L323.63,349.07 L324.13,349.17 L324.64,349.26 L325.15,349.34 L325.66,349.40 L326.16,349.44 L326.67,349.48 L327.18,349.50 L327.68,349.50 L328.19,349.49 L328.70,349.47 L329.20,349.43 L329.71,349.38 L330.22,349.31 L330.73,349.23 L331.23,349.14 L331.74,349.03 L332.25,348.91 L332.75,348.77 L333.26,348.62 L333.77,348.46 L334.27,348.29 L334.78,348.10 L335.29,347.89 L335.80,347.67 L336.30,347.44 L336.81,347.20 L337.32,346.94 L337.82,346.67 L338.33,346.39 L338.84,346.09 L339.35,345.78 L339.85,345.46 L340.36,345.13 L340.87,344.78 L341.37,344.42 L341.88,344.04 L342.39,343.66 L342.89,343.26 L343.40,342.85 L343.91,342.43 L344.42,342.00 L344.92,341.55 L345.43,341.10 L345.94,340.63 L346.44,340.15 L346.95,339.66 L347.46,339.16 L347.96,338.64 L348.47,338.12 L348.98,337.59 L349.49,337.04 L349.99,336.49 L350.50,335.92 L351.01,335.34 L351.51,334.76 L352.02,334.16 L352.53,333.56 L353.04,332.94 L353.54,332.31 L354.05,331.68 L354.56,331.04 L355.06,330.38 L355.57,329.72 L356.08,329.05 L356.58,328.37 L357.09,327.68 L357.60,326.99 L358.11,326.28 L358.61,325.57 L359.12,324.85 L359.63,324.12 L360.13,323.39 L360.64,322.64 L361.15,321.89 L361.66,321.14 L362.16,320.37 L362.67,319.60 L363.18,318.82 L363.68,318.03 L364.19,317.24 L364.70,316.44 L365.20,315.64 L365.71,314.83 L366.22,314.01 L366.73,313.19 L367.23,312.36 L367.74,311.53 L368.25,310.69 L368.75,309.84 L369.26,308.99 L369.77,308.14 L370.27,307.28 L370.78,306.41 L371.29,305.54 L371.80,304.67 L372.30,303.79 L372.81,302.91 L373.32,302.02 L373.82,301.13 L374.33,300.24 L374.84,299.34 L375.35,298.44 L375.85,297.53 L376.36,296.62 L376.87,295.71 L377.37,294.79 L377.88,293.87 L378.39,292.95 L378.89,292.03 L379.40,291.10 L379.91,290.17 L380.42,289.24 L380.92,288.30 L381.43,287.37 L381.94,286.43 L382.44,285.49 L382.95,284.54 L383.46,283.60 L383.96,282.65 L384.47,281.70 L384.98,280.75 L385.49,279.80 L385.99,278.85 L386.50,277.90 L387.01,276.94 L387.51,275.99 L388.02,275.03 L388.53,274.07 L389.04,273.11 L389.54,272.15 L390.05,271.19 L390.56,270.23 L391.06,269.27 L391.57,268.31 L392.08,267.35 L392.58,266.38 L393.09,265.42 L393.60,264.46 L394.11,263.50 L394.61,262.54 L395.12,261.57 L395.63,260.61 L396.13,259.65 L396.64,258.69 L397.15,257.73 L397.65,256.77 L398.16,255.81 L398.67,254.85 L399.18,253.90 L399.68,252.94 L400.19,251.98 L400.70,251.03 L401.20,250.07 L401.71,249.12 L402.22,248.17 L402.73,247.22 L403.23,246.27 L403.74,245.32 L404.25,244.38 L404.75,243.43 L405.26,242.49 L405.77,241.55 L406.27,240.61 L406.78,239.67 L407.29,238.73 L407.80,237.80 L408.30,236.86 L408.81,235.93 L409.32,235.00 L409.82,234.07 L410.33,233.15 L410.84,232.22 L411.35,231.30 L411.85,230.38 L412.36,229.47 L412.87,228.55 L413.37,227.64 L413.88,226.73 L414.39,225.82 L414.89,224.91 L415.40,224.01 L415.91,223.11 L416.42,222.21 L416.92,221.32 L417.43,220.42 L417.94,219.53 L418.44,218.64 L418.95,217.76 L419.46,216.88 L419.96,216.00 L420.47,215.12 L420.98,214.24 L421.49,213.37 L421.99,212.50 L422.50,211.64 L423.01,210.77 L423.51,209.91 L424.02,209.06 L424.53,208.20 L425.04,207.35 L425.54,206.50 L426.05,205.66 L426.56,204.81 L427.06,203.97 L427.57,203.14 L428.08,202.30 L428.58,201.47 L429.09,200.65 L429.60,199.82 L430.11,199.00 L430.61,198.18 L431.12,197.37 L431.63,196.56 L432.13,195.75 L432.64,194.95 L433.15,194.14 L433.65,193.35 L434.16,192.55 L434.67,191.76 L435.18,190.97 L435.68,190.18 L436.19,189.40 L436.70,188.62 L437.20,187.85 L437.71,187.08 L438.22,186.31 L438.73,185.54 L439.23,184.78 L439.74,184.02 L440.25,183.27 L440.75,182.51 L441.26,181.76 L441.77,181.02 L442.27,180.28 L442.78,179.54 L443.29,178.80 L443.80,178.07 L444.30,177.34 L444.81,176.62 L445.32,175.90 L445.82,175.18 L446.33,174.47 L446.84,173.75 L447.35,173.05 L447.85,172.34 L448.36,171.64 L448.87,170.94 L449.37,170.25 L449.88,169.56 L450.39,168.87 L450.89,168.19 L451.40,167.51 L451.91,166.83 L452.42,166.16 L452.92,165.49 L453.43,164.82 L453.94,164.16 L454.44,163.50 L454.95,162.84 L455.46,162.19 L455.96,161.54 L456.47,160.89 L456.98,160.25 L457.49,159.61 L457.99,158.97 L458.50,158.34 L459.01,157.71 L459.51,157.08 L460.02,156.46 L460.53,155.84 L461.04,155.22 L461.54,154.61 L462.05,154.00 L462.56,153.39 L463.06,152.79 L463.57,152.19 L464.08,151.59 L464.58,151.00 L465.09,150.41 L465.60,149.82 L466.11,149.24 L466.61,148.66 L467.12,148.08 L467.63,147.51 L468.13,146.94 L468.64,146.37 L469.15,145.80 L469.65,145.24 L470.16,144.69 L470.67,144.13 L471.18,143.58 L471.68,143.03 L472.19,142.49 L472.70,141.94 L473.20,141.41 L473.71,140.87 L474.22,140.34 L474.73,139.81 L475.23,139.28 L475.74,138.76 L476.25,138.24 L476.75,137.72 L477.26,137.21 L477.77,136.69 L478.27,136.19 L478.78,135.68 L479.29,135.18 L479.80,134.68 L480.30,134.18 L480.81,133.69 L481.32,133.20 L481.82,132.71 L482.33,132.23 L482.84,131.75 L483.34,131.27 L483.85,130.79 L484.36,130.32 L484.87,129.85 L485.37,129.38 L485.88,128.92 L486.39,128.46 L486.89,128.00 L487.40,127.54 L487.91,127.09 L488.42,126.64 L488.92,126.19 L489.43,125.75 L489.94,125.31 L490.44,124.87 L490.95,124.43 L491.46,124.00 L491.96,123.57 L492.47,123.14 L492.98,122.71 L493.49,122.29 L493.99,121.87 L494.50,121.45 L495.01,121.04 L495.51,120.62 L496.02,120.21 L496.53,119.81 L497.04,119.40 L497.54,119.00 L498.05,118.60 L498.56,118.21 L499.06,117.81 L499.57,117.42 L500.08,117.03 L500.58,116.64 L501.09,116.26 L501.60,115.88 L502.11,115.50 L502.61,115.12 L503.12,114.75 L503.63,114.37 L504.13,114.00 L504.64,113.64 L505.15,113.27 L505.65,112.91 L506.16,112.55 L506.67,112.19 L507.18,111.84 L507.68,111.48 L508.19,111.13 L508.70,110.78 L509.20,110.44 L509.71,110.09 L510.22,109.75 L510.73,109.41 L511.23,109.08 L511.74,108.74 L512.25,108.41 L512.75,108.08 L513.26,107.75 L513.77,107.42 L514.27,107.10 L514.78,106.78 L515.29,106.46 L515.80,106.14 L516.30,105.82 L516.81,105.51 L517.32,105.20 L517.82,104.89 L518.33,104.58 L518.84,104.28 L519.34,103.98 L519.85,103.67 L520.36,103.38 L520.87,103.08 L521.37,102.78 L521.88,102.49 L522.39,102.20 L522.89,101.91 L523.40,101.62 L523.91,101.34 L524.42,101.06 L524.92,100.77 L525.43,100.49 L525.94,100.22 L526.44,99.94 L526.95,99.67 L527.46,99.40 L527.96,99.13 L528.47,98.86 L528.98,98.59 L529.49,98.33 L529.99,98.07 L530.50,97.80 L531.01,97.55 L531.51,97.29 L532.02,97.03 L532.53,96.78 L533.04,96.53 L533.54,96.28 L534.05,96.03 L534.56,95.78 L535.06,95.54 L535.57,95.29 L536.08,95.05 L536.58,94.81 L537.09,94.57 L537.60,94.34 L538.11,94.10 L538.61,93.87 L539.12,93.64 L539.63,93.41 L540.13,93.18 L540.64,92.95 L541.15,92.72 L541.65,92.50 L542.16,92.28 L542.67,92.06 L543.18,91.84 L543.68,91.62 L544.19,91.40 L544.70,91.19 L545.20,90.98 L545.71,90.76 L546.22,90.55 L546.73,90.35 L547.23,90.14 L547.74,89.93 L548.25,89.73 L548.75,89.53 L549.26,89.32 L549.77,89.12 L550.27,88.92 L550.78,88.73 L551.29,88.53 L551.80,88.34 L552.30,88.14 L552.81,87.95 L553.32,87.76 L553.82,87.57 L554.33,87.39 L554.84,87.20 L555.34,87.01 L555.85,86.83 L556.36,86.65 L556.87,86.47 L557.37,86.29 L557.88,86.11 L558.39,85.93 L558.89,85.75 L559.40,85.58 L559.91,85.41 L560.42,85.23 L560.92,85.06 L561.43,84.89 L561.94,84.72 L562.44,84.56 L562.95,84.39 L563.46,84.23 L563.96,84.06 L564.47,83.90 L564.98,83.74 L565.49,83.58 L565.99,83.42 L566.50,83.26 L567.01,83.10 L567.51,82.95 L568.02,82.79 L568.53,82.64 L569.04,82.49 L569.54,82.33 L570.05,82.18 L570.56,82.04 L571.06,81.89 L571.57,81.74 L572.08,81.59 L572.58,81.45 L573.09,81.30 L573.60,81.16 L574.11,81.02 L574.61,80.88 L575.12,80.74 L575.63,80.60 L576.13,80.46 L576.64,80.33 L577.15,80.19 L577.65,80.06 L578.16,79.92 L578.67,79.79 L579.18,79.66 L579.68,79.53 L580.19,79.40 L580.70,79.27 L581.20,79.14 L581.71,79.01 L582.22,78.88 L582.73,78.76 L583.23,78.63 L583.74,78.51 L584.25,78.39 L584.75,78.27 L585.26,78.15 L585.77,78.03 L586.27,77.91 L586.78,77.79 L587.29,77.67 L587.80,77.55 L588.30,77.44 L588.81,77.32 L589.32,77.21 L589.82,77.10 L590.33,76.98 L590.84,76.87 L591.34,76.76 L591.85,76.65 L592.36,76.54 L592.87,76.43 L593.37,76.33 L593.88,76.22 L594.39,76.11 L594.89,76.01 L595.40,75.90 L595.91,75.80 L596.42,75.70 L596.92,75.60 L597.43,75.49 L597.94,75.39 L598.44,75.29 L598.95,75.19 L599.46,75.10 L599.96,75.00 L600.47,74.90 L600.98,74.81 L601.49,74.71 L601.99,74.61 L602.50,74.52 L603.01,74.43 L603.51,74.33 L604.02,74.24 L604.53,74.15 L605.03,74.06 L605.54,73.97 L606.05,73.88 L606.56,73.79 L607.06,73.70 L607.57,73.62 L608.08,73.53 L608.58,73.44 L609.09,73.36 L609.60,73.27 L610.11,73.19 L610.61,73.10 L611.12,73.02 L611.63,72.94 L612.13,72.86 L612.64,72.78 L613.15,72.69 L613.65,72.61 L614.16,72.53 L614.67,72.46 L615.18,72.38 L615.68,72.30 L616.19,72.22 L616.70,72.15 L617.20,72.07 L617.71,71.99 L618.22,71.92 L618.73,71.85 L619.23,71.77 L619.74,71.70 L620.25,71.63 L620.75,71.55 L621.26,71.48 L621.77,71.41 L622.27,71.34 L622.78,71.27 L623.29,71.20 L623.80,71.13 L624.30,71.06 L624.81,71.00 L625.32,70.93 L625.82,70.86 L626.33,70.79 L626.84,70.73 L627.34,70.66 L627.85,70.60 L628.36,70.53 L628.87,70.47 L629.37,70.41 L629.88,70.34 L630.39,70.28 L630.89,70.22 L631.40,70.16 L631.91,70.09 L632.42,70.03 L632.92,69.97 L633.43,69.91 L633.94,69.85 L634.44,69.79 L634.95,69.74 L635.46,69.68 L635.96,69.62 L636.47,69.56 L636.98,69.51 L637.49,69.45 L637.99,69.39 L638.50,69.34 L639.01,69.28 L639.51,69.23 L640.02,69.17 L640.53,69.12 L641.03,69.07 L641.54,69.01 L642.05,68.96 L642.56,68.91 L643.06,68.86 L643.57,68.80 L644.08,68.75 L644.58,68.70 L645.09,68.65 L645.60,68.60 L646.11,68.55 L646.61,68.50 L647.12,68.45 L647.63,68.41 L648.13,68.36 L648.64,68.31 L649.15,68.26 L649.65,68.21 L650.16,68.17 L650.67,68.12 L651.18,68.08 L651.68,68.03 L652.19,67.98 L652.70,67.94 L653.20,67.89 L653.71,67.85 L654.22,67.81 L654.73,67.76 L655.23,67.72 L655.74,67.68 L656.25,67.63 L656.75,67.59 L657.26,67.55 L657.77,67.51 L658.27,67.47 L658.78,67.42 L659.29,67.38 L659.80,67.34 L660.30,67.30 L660.81,67.26 L661.32,67.22 L661.82,67.18 L662.33,67.14 L662.84,67.11 L663.34,67.07 L663.85,67.03 L664.36,66.99 L664.87,66.95 L665.37,66.92 L665.88,66.88 L666.39,66.84 L666.89,66.81 L667.40,66.77 L667.91,66.73 L668.42,66.70 L668.92,66.66 L669.43,66.63 L669.94,66.59 L670.44,66.56 L670.95,66.52 L671.46,66.49 L671.96,66.45 L672.47,66.42 L672.98,66.39 L673.49,66.35 L673.99,66.32 L674.50,66.29 L675.01,66.26 L675.51,66.22 L676.02,66.19 L676.53,66.16 L677.03,66.13 L677.54,66.10 L678.05,66.07 L678.56,66.04 L679.06,66.01 L679.57,65.98 L680.08,65.95 L680.58,65.92 L681.09,65.89 L681.60,65.86 L682.11,65.83 L682.61,65.80 L683.12,65.77 L683.63,65.74 L684.13,65.71 L684.64,65.69 L685.15,65.66 L685.65,65.63 L686.16,65.60 L686.67,65.58 L687.18,65.55 L687.68,65.52 L688.19,65.50 L688.70,65.47 L689.20,65.44 L689.71,65.42 L690.22,65.39 L690.73,65.37 L691.23,65.34 L691.74,65.31 L692.25,65.29 L692.75,65.26 L693.26,65.24 L693.77,65.22 L694.27,65.19 L694.78,65.17 L695.29,65.14 L695.80,65.12 L696.30,65.10 L696.81,65.07 L697.32,65.05 L697.82,65.03 L698.33,65.00 L698.84,64.98 L699.34,64.96 L699.85,64.94 L700.36,64.91 L700.87,64.89 L701.37,64.87 L701.88,64.85 L702.39,64.83 L702.89,64.80 L703.40,64.78 L703.91,64.76 L704.42,64.74 L704.92,64.72 L705.43,64.70 L705.94,64.68 L706.44,64.66 L706.95,64.64 L707.46,64.62 L707.96,64.60 L708.47,64.58 L708.98,64.56 L709.49,64.54 L709.99,64.52 L710.50,64.50 L711.01,64.48 L711.51,64.47 L712.02,64.45 L712.53,64.43 L713.03,64.41 L713.54,64.39 L714.05,64.37 L714.56,64.36 L715.06,64.34 L715.57,64.32 L716.08,64.30 L716.58,64.28 L717.09,64.27 L717.60,64.25 L718.11,64.23 L718.61,64.22 L719.12,64.20 L719.63,64.18 L720.13,64.17 L720.64,64.15 L721.15,64.13 L721.65,64.12 L722.16,64.10 L722.67,64.09 L723.18,64.07 L723.68,64.05 L724.19,64.04 L724.70,64.02 L725.20,64.01 L725.71,63.99 L726.22,63.98 L726.72,63.96 L727.23,63.95 L727.74,63.93 L728.25,63.92 L728.75,63.90 L729.26,63.89 L729.77,63.88 L730.27,63.86 L730.78,63.85 L731.29,63.83 L731.80,63.82 L732.30,63.81 L732.81,63.79 L733.32,63.78 L733.82,63.76 L734.33,63.75 L734.84,63.74 L735.34,63.72 L735.85,63.71 L736.36,63.70 L736.87,63.69 L737.37,63.67 L737.88,63.66 L738.39,63.65 L738.89,63.64 L739.40,63.62 L739.91,63.61 L740.42,63.60 L740.92,63.59 L741.43,63.57 L741.94,63.56 L742.44,63.55 L742.95,63.54 L743.46,63.53 L743.96,63.52 L744.47,63.50 L744.98,63.49 L745.49,63.48 L745.99,63.47 L746.50,63.46 L747.01,63.45 L747.51,63.44 L748.02,63.43 L748.53,63.42 L749.03,63.40 L749.54,63.39 L750.05,63.38 L750.56,63.37 L751.06,63.36 L751.57,63.35 L752.08,63.34 L752.58,63.33 L753.09,63.32 L753.60,63.31 L754.11,63.30 L754.61,63.29 L755.12,63.28 L755.63,63.27 L756.13,63.26 L756.64,63.25 L757.15,63.24 L757.65,63.23 L758.16,63.22 L758.67,63.22 L759.18,63.21 L759.68,63.20 L760.19,63.19 L760.70,63.18 L761.20,63.17 L761.71,63.16 L762.22,63.15 L762.72,63.14 L763.23,63.14 L763.74,63.13 L764.25,63.12 L764.75,63.11 L765.26,63.10 L765.77,63.09 L766.27,63.08 L766.78,63.08 L767.29,63.07 L767.80,63.06 L768.30,63.05 L768.81,63.04 L769.32,63.04 L769.82,63.03 L770.33,63.02 L770.84,63.01 L771.34,63.01 L771.85,63.00 L772.36,62.99 L772.87,62.98 L773.37,62.98 L773.88,62.97 L774.39,62.96 L774.89,62.95 L775.40,62.95 L775.91,62.94 L776.42,62.93 L776.92,62.92 L777.43,62.92 L777.94,62.91 L778.44,62.90 L778.95,62.90 L779.46,62.89 L779.96,62.88 L780.47,62.88 L780.98,62.87 L781.49,62.86 L781.99,62.86 L782.50,62.85 L783.01,62.84 L783.51,62.84 L784.02,62.83 L784.53,62.82 L785.03,62.82 L785.54,62.81 L786.05,62.81 L786.56,62.80 L787.06,62.79 L787.57,62.79 L788.08,62.78 L788.58,62.78 L789.09,62.77 L789.60,62.76 L790.11,62.76 L790.61,62.75 L791.12,62.75 L791.63,62.74 L792.13,62.74 L792.64,62.73 L793.15,62.72 L793.65,62.72 L794.16,62.71 L794.67,62.71 L795.18,62.70 L795.68,62.70 L796.19,62.69 L796.70,62.69 L797.20,62.68 L797.71,62.68 L798.22,62.67 L798.72,62.67 L799.23,62.66 L799.74,62.66 L800.25,62.65 L800.75,62.65 L801.26,62.64 L801.77,62.64 L802.27,62.63 L802.78,62.63 L803.29,62.62 L803.80,62.62 L804.30,62.61 L804.81,62.61 L805.32,62.60 L805.82,62.60 L806.33,62.59 L806.84,62.59 L807.34,62.59 L807.85,62.58 L808.36,62.58 L808.87,62.57" fill="none" stroke="#6282d8" stroke-width="5.4" stroke-linejoin="round"/>
<line x1="42.00" y1="349.50" x2="808.50" y2="349.50" stroke="#262626" stroke-opacity="0.85" stroke-width="1"/>
<line x1="349" y1="4.50" x2="349" y2="579.50" stroke="#000" stroke-width="4"/>
<path d="M88.68,579.50L88.68,575.80 M88.68,4.50L88.68,8.20 M115.67,579.50L115.67,575.80 M115.67,4.50L115.67,8.20 M134.82,579.50L134.82,575.80 M134.82,4.50L134.82,8.20 M149.67,579.50L149.67,575.80 M149.67,4.50L149.67,8.20 M161.80,579.50L161.80,575.80 M161.80,4.50L161.80,8.20 M172.06,579.50L172.06,575.80 M172.06,4.50L172.06,8.20 M180.95,579.50L180.95,575.80 M180.95,4.50L180.95,8.20 M188.79,579.50L188.79,575.80 M188.79,4.50L188.79,8.20 M195.80,579.50L195.80,572.20 M195.80,4.50L195.80,11.80 M241.93,579.50L241.93,575.80 M241.93,4.50L241.93,8.20 M268.92,579.50L268.92,575.80 M268.92,4.50L268.92,8.20 M288.07,579.50L288.07,575.80 M288.07,4.50L288.07,8.20 M302.92,579.50L302.92,575.80 M302.92,4.50L302.92,8.20 M315.05,579.50L315.05,575.80 M315.05,4.50L315.05,8.20 M325.31,579.50L325.31,575.80 M325.31,4.50L325.31,8.20 M334.20,579.50L334.20,575.80 M334.20,4.50L334.20,8.20 M342.04,579.50L342.04,575.80 M342.04,4.50L342.04,8.20 M349.05,579.50L349.05,572.20 M349.05,4.50L349.05,11.80 M395.18,579.50L395.18,575.80 M395.18,4.50L395.18,8.20 M422.17,579.50L422.17,575.80 M422.17,4.50L422.17,8.20 M441.32,579.50L441.32,575.80 M441.32,4.50L441.32,8.20 M456.17,579.50L456.17,575.80 M456.17,4.50L456.17,8.20 M468.30,579.50L468.30,575.80 M468.30,4.50L468.30,8.20 M478.56,579.50L478.56,575.80 M478.56,4.50L478.56,8.20 M487.45,579.50L487.45,575.80 M487.45,4.50L487.45,8.20 M495.29,579.50L495.29,575.80 M495.29,4.50L495.29,8.20 M502.30,579.50L502.30,572.20 M502.30,4.50L502.30,11.80 M548.43,579.50L548.43,575.80 M548.43,4.50L548.43,8.20 M575.42,579.50L575.42,575.80 M575.42,4.50L575.42,8.20 M594.57,579.50L594.57,575.80 M594.57,4.50L594.57,8.20 M609.42,579.50L609.42,575.80 M609.42,4.50L609.42,8.20 M621.55,579.50L621.55,575.80 M621.55,4.50L621.55,8.20 M631.81,579.50L631.81,575.80 M631.81,4.50L631.81,8.20 M640.70,579.50L640.70,575.80 M640.70,4.50L640.70,8.20 M648.54,579.50L648.54,575.80 M648.54,4.50L648.54,8.20 M655.55,579.50L655.55,572.20 M655.55,4.50L655.55,11.80 M701.68,579.50L701.68,575.80 M701.68,4.50L701.68,8.20 M728.67,579.50L728.67,575.80 M728.67,4.50L728.67,8.20 M747.82,579.50L747.82,575.80 M747.82,4.50L747.82,8.20 M762.67,579.50L762.67,575.80 M762.67,4.50L762.67,8.20 M774.80,579.50L774.80,575.80 M774.80,4.50L774.80,8.20 M785.06,579.50L785.06,575.80 M785.06,4.50L785.06,8.20 M793.95,579.50L793.95,575.80 M793.95,4.50L793.95,8.20 M801.79,579.50L801.79,575.80 M801.79,4.50L801.79,8.20" stroke="#4d4d4d" stroke-width="0.55" fill="none"/>
<path d="M42.00,550.50L46.70,550.50 M808.50,550.50L803.80,550.50 M42.00,522.50L46.70,522.50 M808.50,522.50L803.80,522.50 M42.00,493.50L49.70,493.50 M808.50,493.50L800.80,493.50 M42.00,464.50L46.70,464.50 M808.50,464.50L803.80,464.50 M42.00,435.50L46.70,435.50 M808.50,435.50L803.80,435.50 M42.00,407.50L46.70,407.50 M808.50,407.50L803.80,407.50 M42.00,378.50L46.70,378.50 M808.50,378.50L803.80,378.50 M42.00,349.50L49.70,349.50 M808.50,349.50L800.80,349.50 M42.00,320.50L46.70,320.50 M808.50,320.50L803.80,320.50 M42.00,292.50L46.70,292.50 M808.50,292.50L803.80,292.50 M42.00,263.50L46.70,263.50 M808.50,263.50L803.80,263.50 M42.00,234.50L46.70,234.50 M808.50,234.50L803.80,234.50 M42.00,205.50L49.70,205.50 M808.50,205.50L800.80,205.50 M42.00,177.50L46.70,177.50 M808.50,177.50L803.80,177.50 M42.00,148.50L46.70,148.50 M808.50,148.50L803.80,148.50 M42.00,119.50L46.70,119.50 M808.50,119.50L803.80,119.50 M42.00,90.50L46.70,90.50 M808.50,90.50L803.80,90.50 M42.00,62.50L49.70,62.50 M808.50,62.50L800.80,62.50 M42.00,33.50L46.70,33.50 M808.50,33.50L803.80,33.50" stroke="#4d4d4d" stroke-width="1" fill="none"/>
<path d="M42.00,4.00L42.00,580.00" stroke="#404040" stroke-width="1.3" fill="none"/>
<path d="M42.00,4.50L808.50,4.50L808.50,579.50L42.00,579.50" stroke="#454545" stroke-width="1" fill="none" stroke-linejoin="miter"/>
<text transform="translate(12.17,69.50) scale(0.2036,0.1880)" font-size="100" fill="#000">1.0</text>
<text transform="translate(12.50,213.25) scale(0.1991,0.1880)" font-size="100" fill="#000">0.5</text>
<text transform="translate(12.50,357.00) scale(0.2009,0.1880)" font-size="100" fill="#000">0.0</text>
<text transform="translate(12.50,500.75) scale(0.1991,0.1880)" font-size="100" fill="#000">0.5</text>
<text transform="translate(23.98,602.80) scale(0.2061,0.1880)" font-size="100" fill="#000">0.01</text>
<text transform="translate(177.07,602.80) scale(0.2066,0.1880)" font-size="100" fill="#000">0.10</text>
<text transform="translate(343.25,602.80) scale(0.2171,0.1880)" font-size="100" fill="#000">1</text>
<text transform="translate(490.64,602.80) scale(0.2287,0.1880)" font-size="100" fill="#000">10</text>
<text transform="translate(638.48,602.80) scale(0.2248,0.1880)" font-size="100" fill="#000">100</text>
<text transform="translate(786.83,602.80) scale(0.2187,0.1880)" font-size="100" fill="#000">1000</text>
<line x1="1.0" y1="495.9" x2="10.9" y2="495.9" stroke="#000" stroke-width="1.5"/>
<rect x="562.0" y="191.9" width="110.4" height="85.2" fill="#f2f2f2" stroke="#4c4c4c" stroke-width="1.5"/>
<text transform="translate(571.56,220.90) scale(0.2629,0.2692)" font-size="100" font-style="italic" fill="#000">M</text>
<line x1="596.7" y1="226.6" x2="605.2" y2="202.0" stroke="#000" stroke-width="1.05"/>
<text transform="translate(608.69,221.10) scale(0.2762,0.2557) skewX(-0.85)" font-size="100" font-style="italic" fill="#000">λ</text>
<path d="M628.9,211.4H644.9M628.9,216.6H644.9" stroke="#000" stroke-width="1.0"/>
<text transform="translate(651.62,221.04) scale(0.2561,0.2567)" font-size="100" fill="#000">3</text>
<text transform="translate(569.16,258.32) scale(0.2690,0.2515)" font-size="100" font-style="italic" fill="#000">η</text>
<text transform="translate(582.54,258.32) scale(0.2159,0.2515)" font-size="100" font-style="italic" fill="#000">q</text>
<text transform="translate(593.96,248.49) scale(0.1720,0.1785)" font-size="100" fill="#000">4</text>
<path d="M610.8,249.3H627.2M610.8,254.7H627.2" stroke="#000" stroke-width="1.0"/>
<text transform="translate(634.33,258.65) scale(0.2537,0.2537)" font-size="100" fill="#000">3</text>
<text transform="translate(647.15,258.60) scale(0.2083,0.2000)" font-size="100" fill="#000">.</text>
<text transform="translate(650.90,259.03) scale(0.2765,0.2631)" font-size="100" fill="#000">7</text>
<line x1="529.6" y1="393.05" x2="599" y2="393.05" stroke="#ff7f45" stroke-width="3.6" stroke-dasharray="17.6 6.2"/>
<line x1="529.6" y1="464" x2="599" y2="464" stroke="#6282d8" stroke-width="3.6"/>
<text transform="translate(624.99,401.07) scale(0.2845,0.2634) skewX(-5.47)" font-size="100" font-style="italic" fill="#000">f</text>
<text transform="translate(638.41,401.63) scale(0.2431,0.2844)" font-size="100" fill="#000">(</text>
<text transform="translate(646.51,401.92) scale(0.2671,0.2473) skewX(-10.28)" font-size="100" font-style="italic" fill="#000">r</text>
<text transform="translate(659.63,401.63) scale(0.2231,0.2844)" font-size="100" fill="#000">)</text>
<text transform="translate(655.69,455.20) scale(0.2343,0.2443)" font-size="100" fill="#000">1</text>
<line x1="624.2" y1="465.2" x2="699.0" y2="465.2" stroke="#000" stroke-width="0.95"/>
<text transform="translate(625.67,490.76) scale(0.1909,0.2994)" font-size="100" fill="#000">[</text>
<text transform="translate(630.61,488.09) scale(0.2487,0.2815)" font-size="100" font-style="italic" fill="#000">ψ</text>
<text transform="translate(645.92,495.95) scale(0.3167,0.3702)" font-size="100" fill="#000">′</text>
<text transform="translate(654.85,489.27) scale(0.1882,0.2778)" font-size="100" fill="#000">(</text>
<text transform="translate(661.68,488.72) scale(0.2485,0.2301) skewX(-10.79)" font-size="100" font-style="italic" fill="#000">r</text>
<text transform="translate(675.10,489.27) scale(0.2000,0.2778)" font-size="100" fill="#000">)</text>
<text transform="translate(682.18,490.76) scale(0.1778,0.2994)" font-size="100" fill="#000">]</text>
<text transform="translate(689.05,481.80) scale(0.1675,0.1530)" font-size="100" fill="#000">2</text>
<text transform="translate(372.80,640.60) scale(0.3003,0.2681) skewX(-2.19)" font-size="100" font-weight="bold" font-style="italic" fill="#000">r</text>
<line x1="390.9" y1="647.9" x2="401.3" y2="620.7" stroke="#000" stroke-width="2.1"/>
<text transform="translate(404.49,641.64) scale(0.3137,0.3078)" font-size="100" font-weight="bold" fill="#000">(</text>
<text transform="translate(415.57,640.60) scale(0.3566,0.2621)" font-size="100" font-weight="bold" fill="#000">2</text>
<text transform="translate(433.39,640.60) scale(0.3262,0.2631) skewX(-4.21)" font-size="100" font-weight="bold" font-style="italic" fill="#000">M</text>
<text transform="translate(466.68,641.64) scale(0.3077,0.3078)" font-size="100" font-weight="bold" fill="#000">)</text>
</svg>
</div>
</body></html>
